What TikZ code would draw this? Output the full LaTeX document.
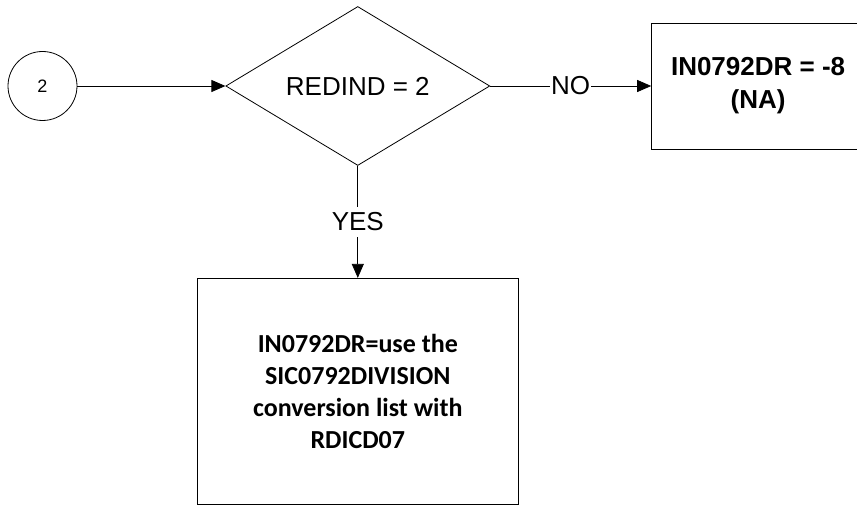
\documentclass[tikz,border=0pt]{standalone}
\usepackage{fontspec}
\setmainfont{Liberation Sans}
\newfontfamily\calibri{Carlito}
\usepackage{tikz}
\usetikzlibrary{arrows.meta,positioning,shapes.geometric}

\begin{document}
\begin{tikzpicture}[
  x=1pt, y=-1pt,
  every node/.style={font=\fontsize{26}{32}\selectfont},
  conn/.style={draw=black, circle, line width=0.8pt, minimum size=69pt, inner sep=0pt, font=\fontsize{18}{22}\selectfont},
  decision/.style={draw=black, diamond, line width=0.8pt, aspect=1.66, inner sep=0pt, minimum width=264pt, minimum height=159pt},
  result/.style={draw=black, rectangle, line width=0.8pt, align=center, font=\fontsize{26}{33}\selectfont\bfseries},
  lbl/.style={fill=white, inner xsep=1pt, inner ysep=6pt},
  arr/.style={-{Triangle[length=14pt, width=12pt]}, line width=0.8pt}
]
\useasboundingbox (0,0) rectangle (857,505);

\node[conn] (start) at (42.5,86) {2};
\node[decision, right=148pt of start] (redind) {REDIND = 2};
\node[result, right=161pt of redind, minimum width=213pt, minimum height=126pt] (na) {IN0792DR = -8\\(NA)};
\node[result, below=112pt of redind, minimum width=321pt, minimum height=226pt,
      font=\fontsize{26}{32}\selectfont\calibri\bfseries] (conv)
  {IN0792DR=use the\\SIC0792DIVISION\\conversion list with\\RDICD07};

\draw[arr] (start) -- (redind);
\draw[arr] (redind) -- node[lbl] {NO} (na);
\draw[arr] (redind) -- node[lbl] {YES} (conv);
\end{tikzpicture}
\end{document}
